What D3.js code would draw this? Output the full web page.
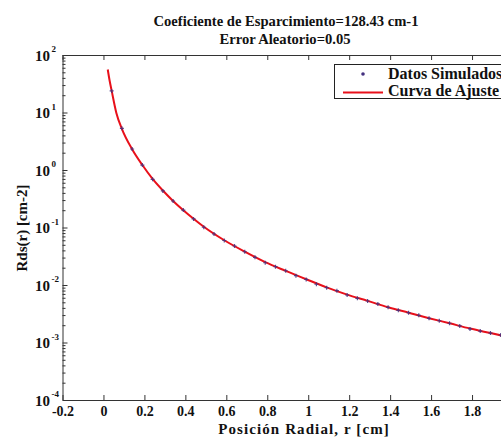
<!DOCTYPE html>
<html lang="es">
<head>
<meta charset="UTF-8">
<title>Rds(r)</title>
<script src="https://cdn.jsdelivr.net/npm/d3@7"></script>
<style>
body { margin: 0; background: #fff; }
text { font-family: "Liberation Serif", "DejaVu Serif", serif; font-weight: bold; fill: #111; }
.axis path, .axis line { stroke: #333; }
</style>
</head>
<body>
<svg width="501" height="439"></svg>
<script>
// datos simulados (r en cm, Rds en cm-2)
var simR = [0.04, 0.09, 0.14, 0.19, 0.24, 0.29, 0.34, 0.39, 0.44, 0.49,
            0.54, 0.59, 0.64, 0.69, 0.74, 0.79, 0.84, 0.89, 0.94, 0.99,
            1.04, 1.09, 1.14, 1.19, 1.24, 1.29, 1.34, 1.39, 1.44, 1.49,
            1.54, 1.59, 1.64, 1.69, 1.74, 1.79, 1.84, 1.89, 1.94, 1.99];
var simRds = [23.7, 5.31, 2.32, 1.22, 0.689, 0.432, 0.289, 0.201, 0.141, 0.101,
              0.0771, 0.0594, 0.0477, 0.0379, 0.0303, 0.0244, 0.0208, 0.0177, 0.0145, 0.0125,
              0.0103, 0.00898, 0.00796, 0.0067, 0.00587, 0.00527, 0.00468, 0.00409, 0.00363, 0.0033,
              0.00297, 0.00263, 0.00239, 0.00216, 0.00194, 0.00172, 0.00158, 0.00146, 0.00135, 0.00125];

// curva de ajuste
var fitR = [0.021, 0.03, 0.04, 0.063, 0.09, 0.14, 0.19, 0.24, 0.29, 0.34, 0.39, 0.44, 0.49,
            0.59, 0.69, 0.79, 0.89, 0.99, 1.09, 1.19, 1.29, 1.39, 1.49, 1.59, 1.69, 1.79, 1.89, 1.99];
var fitRds = [56, 36, 24, 9.8, 5.2, 2.3, 1.22, 0.70, 0.44, 0.29, 0.20, 0.142, 0.103,
              0.060, 0.038, 0.025, 0.0176, 0.0126, 0.0091, 0.0068, 0.0053, 0.0041, 0.0033,
              0.00265, 0.00216, 0.00175, 0.00146, 0.00122];

var xTicks = [-0.2, 0, 0.2, 0.4, 0.6, 0.8, 1, 1.2, 1.4, 1.6, 1.8];
var xTickLabels = ["-0.2", "0", "0.2", "0.4", "0.6", "0.8", "1", "1.2", "1.4", "1.6", "1.8"];
var yExps = [-4, -3, -2, -1, 0, 1, 2];

var svg = d3.select("svg");
var mL = 62.5, mR = 513, mT = 55, mB = 400;

var x = d3.scaleLinear().domain([-0.2, 2]).range([mL, mR]);
var y = d3.scaleLog().domain([1e-4, 1e2]).range([mB, mT]);

svg.append("rect").attr("width", 501).attr("height", 439).attr("fill", "#fff");

// ejes
svg.append("g").attr("class", "axis").attr("transform", "translate(0," + mB + ")")
    .call(d3.axisBottom(x).tickValues(xTicks).tickSizeInner(-5).tickSizeOuter(0).tickPadding(6)
        .tickFormat(function(d, i) { return xTickLabels[i]; }))
    .selectAll("text").attr("font-size", 14).attr("fill", "#111");
svg.append("g").attr("class", "axis").attr("transform", "translate(0," + mT + ")")
    .call(d3.axisTop(x).tickValues(xTicks).tickSizeInner(-5).tickSizeOuter(0).tickFormat(""));

var minor = [];
yExps.slice(0, -1).forEach(function(e) {
    for (var k = 2; k <= 9; k++) minor.push(k * Math.pow(10, e));
});
svg.append("g").attr("class", "axis").attr("transform", "translate(" + mL + ",0)")
    .call(d3.axisLeft(y).tickValues(yExps.map(function(e) { return Math.pow(10, e); }))
        .tickSizeInner(-5).tickSizeOuter(0).tickFormat(""));
svg.append("g").attr("class", "axis").attr("transform", "translate(" + mL + ",0)")
    .call(d3.axisLeft(y).tickValues(minor).tickSizeInner(-3).tickSizeOuter(0).tickFormat(""))
    .select(".domain").remove();

svg.append("g").selectAll("text").data(yExps).enter().append("text")
    .attr("x", 50).attr("y", function(d) { return y(Math.pow(10, d)) + 5.5; })
    .attr("text-anchor", "end").attr("font-size", 15).text("10");
svg.append("g").selectAll("text").data(yExps).enter().append("text")
    .attr("x", 51.5).attr("y", function(d) { return y(Math.pow(10, d)) - 3; })
    .attr("font-size", 9).text(function(d) { return d; });

// curva
var line = d3.line()
    .x(function(d) { return x(d[0]); })
    .y(function(d) { return y(d[1]); })
    .curve(d3.curveMonotoneX);
svg.append("path").datum(fitR.map(function(r, i) { return [r, fitRds[i]]; }))
    .attr("d", line).attr("fill", "none").attr("stroke", "#e8101a").attr("stroke-width", 2);

// puntos
svg.append("g").selectAll("path").data(simR.map(function(r, i) { return [r, simRds[i]]; }))
    .enter().append("path")
    .attr("d", function(d) {
        var px = x(d[0]), py = y(d[1]);
        return "M" + (px - 2) + "," + py + "h4M" + px + "," + (py - 2) + "v4";
    })
    .attr("stroke", "#43307f").attr("stroke-width", 1.2).attr("opacity", 0.85);

// titulos
svg.append("text").attr("x", 286).attr("y", 26).attr("text-anchor", "middle").attr("font-size", 14.6)
    .text("Coeficiente de Esparcimiento=128.43 cm-1");
svg.append("text").attr("x", 285).attr("y", 44).attr("text-anchor", "middle").attr("font-size", 14.6)
    .text("Error Aleatorio=0.05");
svg.append("text").attr("x", 304).attr("y", 434).attr("text-anchor", "middle").attr("font-size", 15)
    .attr("letter-spacing", 1.1).text("Posición Radial, r [cm]");
svg.append("text").attr("transform", "translate(27,228) rotate(-90)").attr("text-anchor", "middle")
    .attr("font-size", 15).text("Rds(r) [cm-2]");

// leyenda
var lg = svg.append("g");
lg.append("rect").attr("x", 334.5).attr("y", 64.5).attr("width", 200).attr("height", 34)
    .attr("fill", "#fff").attr("stroke", "#222");
lg.append("circle").attr("cx", 363).attr("cy", 74).attr("r", 1.8).attr("fill", "#43307f");
lg.append("text").attr("x", 388).attr("y", 79).attr("font-size", 16).text("Datos Simulados");
lg.append("line").attr("x1", 343).attr("x2", 383).attr("y1", 92.5).attr("y2", 92.5)
    .attr("stroke", "#e8101a").attr("stroke-width", 2);
lg.append("text").attr("x", 388).attr("y", 95.5).attr("font-size", 16).text("Curva de Ajuste");
</script>
</body>
</html>
